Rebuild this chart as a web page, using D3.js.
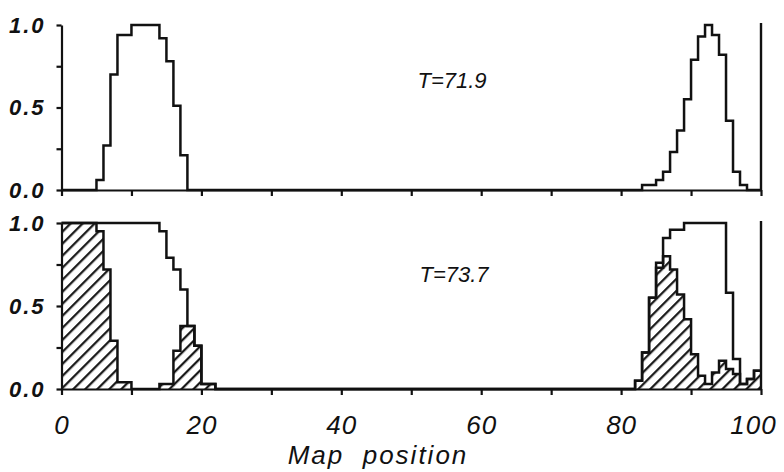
<!DOCTYPE html>
<html>
<head>
<meta charset="utf-8">
<script src="https://cdn.jsdelivr.net/npm/d3@7"></script>
<style>
body { margin: 0; background: #fff; }
text { font-family: "Liberation Sans", Arial, sans-serif; font-style: italic; fill: #111; }
</style>
</head>
<body>
<div id="chart"></div>
<script>
// histogram bins are 1 map unit wide, listed by their left edge
const topBins = [5, 6, 7, 8, 9, 10, 11, 12, 13, 14, 15, 16, 17,
                 83, 84, 85, 86, 87, 88, 89, 90, 91, 92, 93, 94, 95, 96, 97];
const topValues = [0.06, 0.27, 0.70, 0.94, 0.94, 1, 1, 1, 1, 0.92, 0.78, 0.51, 0.21,
                   0.03, 0.03, 0.06, 0.11, 0.23, 0.36, 0.55, 0.79, 0.93, 1.0, 0.94, 0.82, 0.42, 0.11, 0.03];

// T = 73.7, hatched histogram
const hatchBins = [0, 1, 2, 3, 4, 5, 6, 7, 8, 9,
                   14, 15, 16, 17, 18, 19, 20, 21,
                   82, 83, 84, 85, 86, 87, 88, 89, 90, 91, 92, 93, 94, 95, 96, 97, 98, 99];
const hatchValues = [1, 1, 1, 1, 1, 0.95, 0.72, 0.29, 0.04, 0.04,
                     0.03, 0.03, 0.23, 0.38, 0.38, 0.26, 0.03, 0.03,
                     0.05, 0.22, 0.55, 0.73, 0.80, 0.72, 0.57, 0.42, 0.21, 0.08, 0.03, 0.10, 0.17, 0.12, 0.09, 0.03, 0.06, 0.11];

// T = 73.7, open outline
const outlineBins = [0, 1, 2, 3, 4, 5, 6, 7, 8, 9, 10, 11, 12, 13,
                     14, 15, 16, 17, 18, 19, 20, 21,
                     82, 83, 84, 85, 86, 87, 88, 89, 90, 91, 92, 93, 94, 95, 96, 97, 98, 99];
const outlineValues = [1, 1, 1, 1, 1, 1, 1, 1, 1, 1, 1, 1, 1, 1,
                       0.95, 0.79, 0.72, 0.60, 0.38, 0.26, 0.03, 0.03,
                       0.05, 0.22, 0.55, 0.76, 0.91, 0.96, 0.96, 1, 1, 1, 1, 1, 1, 0.58, 0.18, 0.03, 0.06, 0.11];

const xTicks = d3.range(0, 101, 10);
const yTicks = [0, 0.25, 0.5, 0.75, 1];
const panelLabels = ["T=71.9", "T=73.7"];

const width = 784, height = 472;

let svg = d3.select("#chart")
    .append("svg")
    .attr("width", width)
    .attr("height", height);

let x = d3.scaleLinear().domain([0, 100]).range([61.5, 761]);
let yTop = d3.scaleLinear().domain([0, 1]).range([190, 25]);
let yBot = d3.scaleLinear().domain([0, 1]).range([389, 223]);

function toSeries(bins, values) {
    let s = d3.range(100).map(function(i) { return [i, 0]; });
    bins.forEach(function(b, i) { s[b][1] = values[i]; });
    s.push([100, s[99][1]]);
    return s;
}

// diagonal hatching
let pat = svg.append("defs").append("pattern")
    .attr("id", "hatch")
    .attr("patternUnits", "userSpaceOnUse")
    .attr("width", 8.5)
    .attr("height", 8.5)
    .attr("patternTransform", "rotate(45)");
pat.append("line")
    .attr("x1", 4).attr("y1", 0)
    .attr("x2", 4).attr("y2", 8.5)
    .attr("stroke", "#111")
    .attr("stroke-width", 2.2);

function stepLine(y) {
    return d3.line().curve(d3.curveStepAfter)
        .x(function(d) { return x(d[0]); })
        .y(function(d) { return y(d[1]); });
}

function drawAxes(y, showLabels) {
    let xa = svg.append("g")
        .attr("transform", `translate(0,${y(0)})`)
        .call(d3.axisBottom(x).tickValues(xTicks).tickSize(6).tickSizeOuter(0).tickPadding(21)
            .tickFormat(function(d) { return showLabels && d % 20 === 0 ? d : ""; }));
    xa.selectAll("text").style("font-size", "26px").style("letter-spacing", "1px");
    // the last label sits a little left so it stays inside the page
    xa.selectAll("text").filter(function(d) { return d === 100; }).attr("dx", "-8px");

    let ya = svg.append("g")
        .attr("transform", `translate(${x(0)},0)`)
        .call(d3.axisLeft(y).tickValues(yTicks).tickSize(5).tickSizeOuter(0).tickPadding(11)
            .tickFormat(function(d) { return d % 0.5 === 0 ? d3.format(".1f")(d) : ""; }));
    ya.selectAll("text").style("font-size", "22px").style("font-weight", "bold").style("letter-spacing", "2px");

    svg.selectAll(".domain, .tick line").attr("stroke", "#111").attr("stroke-width", 2.2);

    // right-hand border at map position 100
    svg.append("line")
        .attr("x1", x(100)).attr("x2", x(100))
        .attr("y1", y(0)).attr("y2", y(1) - 2)
        .attr("stroke", "#111")
        .attr("stroke-width", 2.4);
}

// top panel
svg.append("path")
    .datum(toSeries(topBins, topValues))
    .attr("fill", "none")
    .attr("stroke", "#111")
    .attr("stroke-width", 2.5)
    .attr("d", stepLine(yTop));

// bottom panel
let hatchData = toSeries(hatchBins, hatchValues);
svg.append("path")
    .datum(hatchData)
    .attr("fill", "url(#hatch)")
    .attr("stroke", "none")
    .attr("d", d3.area().curve(d3.curveStepAfter)
        .x(function(d) { return x(d[0]); })
        .y0(yBot(0))
        .y1(function(d) { return yBot(d[1]); }));

svg.append("path")
    .datum(hatchData)
    .attr("fill", "none")
    .attr("stroke", "#111")
    .attr("stroke-width", 2.5)
    .attr("d", stepLine(yBot));

svg.append("path")
    .datum(toSeries(outlineBins, outlineValues))
    .attr("fill", "none")
    .attr("stroke", "#111")
    .attr("stroke-width", 2.5)
    .attr("d", stepLine(yBot));

drawAxes(yTop, false);
drawAxes(yBot, true);

svg.append("text")
    .attr("x", 452)
    .attr("y", 88)
    .style("text-anchor", "middle")
    .style("font-size", "22px")
    .text(panelLabels[0]);

svg.append("text")
    .attr("x", 454)
    .attr("y", 282)
    .style("text-anchor", "middle")
    .style("font-size", "22px")
    .text(panelLabels[1]);

svg.append("text")
    .attr("x", 378)
    .attr("y", 464)
    .style("text-anchor", "middle")
    .style("font-size", "26px")
    .style("letter-spacing", "2px")
    .style("white-space", "pre")
    .text("Map  position");
</script>
</body>
</html>
